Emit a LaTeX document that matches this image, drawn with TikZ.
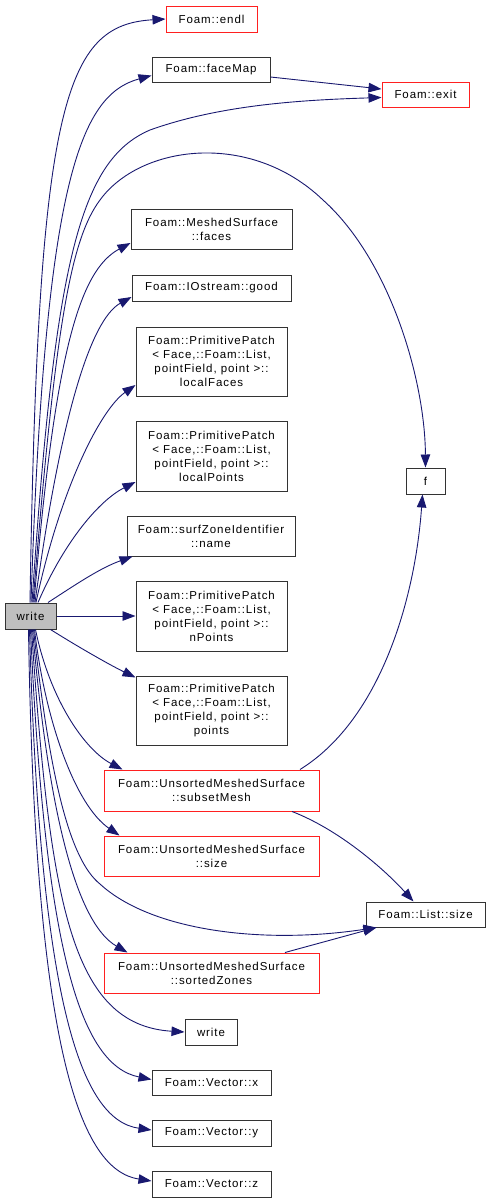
\documentclass[tikz,border=0pt]{standalone}
\usepackage{fontspec}
\setmainfont{Liberation Sans}
\newfontfamily\graphfont[LetterSpace=8]{Liberation Sans}
\usetikzlibrary{arrows.meta}
\definecolor{edgeblue}{HTML}{191970}
\definecolor{nodegray}{HTML}{BFBFBF}
\definecolor{nodered}{HTML}{FF2020}

\begin{document}
\begin{tikzpicture}[x=1pt, y=-1pt,
  fn/.style 2 args={draw=black!80, line width=1pt, fill=white, inner sep=0pt,
    minimum width=#1pt, minimum height=#2pt, align=center,
    font={\graphfont\fontsize{11.5}{14}\selectfont}},
  fnred/.style 2 args={fn={#1}{#2}, draw=nodered},
  fnmain/.style 2 args={fn={#1}{#2}, fill=nodegray},
  call/.style={-{Triangle[length=13pt, width=9.5pt]}, draw=edgeblue, line width=0.9pt},
]
  \useasboundingbox (0,0) rectangle (491,1203);

  % Caller
  \node[fnmain={51}{26}] (write) at (30.5,616) {write};

  % Callees
  \node[fnred={91}{26}] (endl) at (211.5,19) {Foam::endl};
  \node[fn={118}{25}] (faceMap) at (211,69.5) {Foam::faceMap};
  \node[fnred={87}{25}] (exit) at (425.5,94.5) {Foam::exit};
  \node[fn={161}{40}] (faces) at (211.5,229) {Foam::MeshedSurface\\::faces};
  \node[fn={159}{26}] (good) at (211.5,288) {Foam::IOstream::good};
  \node[fn={151}{69}] (localFaces) at (211.5,361.5) {Foam::PrimitivePatch\\< Face,::Foam::List,\\pointField, point >::\\localFaces};
  \node[fn={151}{70}] (localPoints) at (211.5,456) {Foam::PrimitivePatch\\< Face,::Foam::List,\\pointField, point >::\\localPoints};
  \node[fn={39}{26}] (f) at (425.5,481) {f};
  \node[fn={168}{40}] (name) at (211,536) {Foam::surfZoneIdentifier\\::name};
  \node[fn={151}{70}] (nPoints) at (211.5,616) {Foam::PrimitivePatch\\< Face,::Foam::List,\\pointField, point >::\\nPoints};
  \node[fn={151}{69}] (points) at (211.5,710.5) {Foam::PrimitivePatch\\< Face,::Foam::List,\\pointField, point >::\\points};
  \node[fnred={215}{41}] (subsetMesh) at (211.5,790.5) {Foam::UnsortedMeshedSurface\\::subsetMesh};
  \node[fnred={215}{40}] (usize) at (211.5,856) {Foam::UnsortedMeshedSurface\\::size};
  \node[fn={119}{25}] (listSize) at (425.5,914.5) {Foam::List::size};
  \node[fnred={215}{40}] (sortedZones) at (211.5,973) {Foam::UnsortedMeshedSurface\\::sortedZones};
  \node[fn={52}{26}] (write2) at (211,1032) {write};
  \node[fn={119}{25}] (vx) at (211.5,1082.5) {Foam::Vector::x};
  \node[fn={119}{26}] (vy) at (211.5,1133) {Foam::Vector::y};
  \node[fn={119}{26}] (vz) at (211.5,1184) {Foam::Vector::z};

  % Calls leaving the top of write
  \draw[call] ([xshift=-0.5pt]write.north) .. controls (38,100) and (65,25) .. (endl.west);
  \draw[call] ([xshift=0.5pt]write.north) .. controls (45,180) and (80,95) .. ([yshift=-6pt]faceMap.west);
  \draw[call] ([xshift=1.5pt]write.north) .. controls (55,260) and (80,160) .. (150,130)
    .. controls (220,105) and (300,100) .. ([yshift=-3pt]exit.west);
  \draw[call] ([xshift=2.5pt]write.north) .. controls (55,330) and (70,240) .. (100,200)
    .. controls (140,145) and (250,130) .. (323,200)
    .. controls (390,260) and (425,380) .. (f.north);
  \draw[call] ([xshift=3.5pt]write.north) .. controls (55,350) and (80,270) .. ([yshift=-14pt]faces.west);
  \draw[call] ([xshift=4.5pt]write.north) .. controls (60,420) and (90,320) .. ([yshift=-9pt]good.west);
  \draw[call] ([xshift=5.5pt]write.north) .. controls (60,490) and (100,410) .. ([yshift=-23.5pt]localFaces.west);
  \draw[call] ([xshift=7.5pt]write.north) .. controls (65,540) and (100,500) .. ([yshift=-26pt]localPoints.west);
  \draw[call] ([xshift=17.5pt]write.north) .. controls (75,585) and (100,568) .. ([xshift=6pt]name.south west);

  % Calls to the right
  \draw[call] (write.east) -- (nPoints.west);
  \draw[call] ([xshift=-6pt]write.south east) .. controls (80,648) and (110,665) .. ([yshift=-2pt]points.north west);

  % Calls leaving the bottom of write
  \draw[call] ([xshift=5pt]write.south) .. controls (50,700) and (85,750) .. ([xshift=19pt]subsetMesh.north west);
  \draw[call] ([xshift=4pt]write.south) .. controls (45,720) and (75,805) .. ([xshift=16pt]usize.north west);
  \draw[call] ([xshift=3pt]write.south) .. controls (50,780) and (70,860) .. (100,884)
    .. controls (150,930) and (260,945) .. ([xshift=11pt]listSize.south west);
  \draw[call] ([xshift=2pt]write.south) .. controls (50,830) and (80,925) .. ([xshift=24pt]sortedZones.north west);
  \draw[call] ([xshift=1pt]write.south) .. controls (50,900) and (70,1025) .. (write2.west);
  \draw[call] (write.south) .. controls (45,950) and (80,1065) .. ([yshift=3pt]vx.west);
  \draw[call] ([xshift=-1pt]write.south) .. controls (40,1000) and (80,1120) .. ([yshift=3pt]vy.west);
  \draw[call] ([xshift=-2pt]write.south) .. controls (35,1050) and (80,1170) .. ([yshift=3pt]vz.west);

  % Calls between callees
  \draw[call] ([yshift=-7.5pt]faceMap.east) -- ([yshift=5.5pt]exit.west);
  \draw[call] ([xshift=88.5pt]subsetMesh.north) .. controls (380,720) and (415,600) .. ([xshift=-3pt]f.south);
  \draw[call] ([xshift=80.5pt]subsetMesh.south) .. controls (340,830) and (385,870) .. ([xshift=-12pt]listSize.north);
  \draw[call] ([xshift=73.5pt]sortedZones.north) -- ([xshift=11pt]listSize.south west);
\end{tikzpicture}
\end{document}
